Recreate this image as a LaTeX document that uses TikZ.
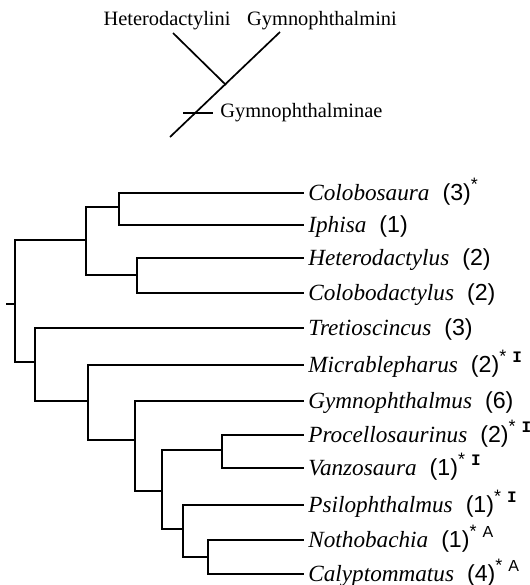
\documentclass[tikz,border=0pt]{standalone}
\usepackage{fontspec}
\setmainfont{Liberation Serif}
\newfontfamily\numfont{Liberation Sans}
\newfontfamily\markfont{Liberation Mono}
\usepackage{tikz}
\usetikzlibrary{positioning,calc}

\newcommand{\taxon}[2]{\textit{#1}\hspace{6.5pt}{\numfont(#2)}}
\newcommand{\supmark}[1]{\raisebox{0.95ex}{\fontsize{9}{9}\selectfont\numfont *#1}}
\newcommand{\mkI}{\hspace{3pt}{\fontsize{8}{8}\selectfont\markfont\bfseries I}}
\newcommand{\mkA}{\hspace{3pt}{\fontsize{8}{8}\selectfont A}}

\begin{document}
\begin{tikzpicture}[
    x=0.5pt, y=-0.5pt,
    branch/.style={line width=1pt, line cap=rect},
    stalk/.style={line width=0.85pt},
    leaf/.style={anchor=west, inner xsep=2.5pt, inner ysep=0pt, text height=9pt, text depth=1.2pt, font=\fontsize{11.6}{13}\selectfont},
    clade/.style={inner sep=1pt, font=\fontsize{10.2}{12}\selectfont}
]
    \useasboundingbox (0,0) rectangle (530,585);

    \node[clade] (hetLbl) at (167,21) {Heterodactylini};
    \node[clade] (gymLbl) at (322,21) {Gymnophthalmini};
    \node[clade, anchor=west, inner xsep=3.5pt] (minaeLbl) at (213,113) {Gymnophthalminae};
    \coordinate (hetTip) at (173,33);
    \coordinate (gymTip) at (280,32);
    \coordinate (jct) at (226,85);
    \coordinate (stem) at (170,137);
    \coordinate (barL) at (183,113);

    \draw[stalk] (hetTip) -- (jct);
    \draw[stalk] (gymTip) -- (stem);
    \draw[stalk] (barL) -- (minaeLbl.west);

    \node[leaf] (colobosaura) at (303,193) {\taxon{Colobosaura}{3}\supmark{}};
    \node[leaf] (iphisa) at (303,225) {\taxon{Iphisa}{1}};
    \node[leaf] (heterodactylus) at (303,258) {\taxon{Heterodactylus}{2}};
    \node[leaf] (colobodactylus) at (303,293) {\taxon{Colobodactylus}{2}};
    \node[leaf] (tretioscincus) at (303,328) {\taxon{Tretioscincus}{3}};
    \node[leaf] (micrablepharus) at (303,365) {\taxon{Micrablepharus}{2}\supmark{\mkI}};
    \node[leaf] (gymnophthalmus) at (303,401) {\taxon{Gymnophthalmus}{6}};
    \node[leaf] (procellosaurinus) at (303,435) {\taxon{Procellosaurinus}{2}\supmark{\mkI}};
    \node[leaf] (vanzosaura) at (303,468) {\taxon{Vanzosaura}{1}\supmark{\mkI}};
    \node[leaf] (psilophthalmus) at (303,505) {\taxon{Psilophthalmus}{1}\supmark{\mkI}};
    \node[leaf] (nothobachia) at (303,540) {\taxon{Nothobachia}{1}\supmark{\mkA}};
    \node[leaf] (calyptommatus) at (303,574) {\taxon{Calyptommatus}{4}\supmark{\mkA}};

    \coordinate (base) at (7,304);
    \coordinate (root) at (15,304);
    \coordinate (upper) at (86,240);
    \coordinate (colIph) at (119,207);
    \coordinate (hetCol) at (137,275);
    \coordinate (lower) at (35,362);
    \coordinate (micGrp) at (88,401);
    \coordinate (gymGrp) at (135,440);
    \coordinate (proGrp) at (162,491);
    \coordinate (proVan) at (222,450);
    \coordinate (psiGrp) at (183,529);
    \coordinate (notCal) at (208,557);

    \draw[branch] (base) -- (root);
    \draw[branch] (root) |- (upper);
    \draw[branch] (root) |- (lower);
    \draw[branch] (upper) |- (colIph);
    \draw[branch] (upper) |- (hetCol);
    \draw[branch] (colIph) |- (colobosaura.west);
    \draw[branch] (colIph) |- (iphisa.west);
    \draw[branch] (hetCol) |- (heterodactylus.west);
    \draw[branch] (hetCol) |- (colobodactylus.west);
    \draw[branch] (lower) |- (tretioscincus.west);
    \draw[branch] (lower) |- (micGrp);
    \draw[branch] (micGrp) |- (micrablepharus.west);
    \draw[branch] (micGrp) |- (gymGrp);
    \draw[branch] (gymGrp) |- (gymnophthalmus.west);
    \draw[branch] (gymGrp) |- (proGrp);
    \draw[branch] (proGrp) |- (proVan);
    \draw[branch] (proGrp) |- (psiGrp);
    \draw[branch] (proVan) |- (procellosaurinus.west);
    \draw[branch] (proVan) |- (vanzosaura.west);
    \draw[branch] (psiGrp) |- (psilophthalmus.west);
    \draw[branch] (psiGrp) |- (notCal);
    \draw[branch] (notCal) |- (nothobachia.west);
    \draw[branch] (notCal) |- (calyptommatus.west);
\end{tikzpicture}
\end{document}
